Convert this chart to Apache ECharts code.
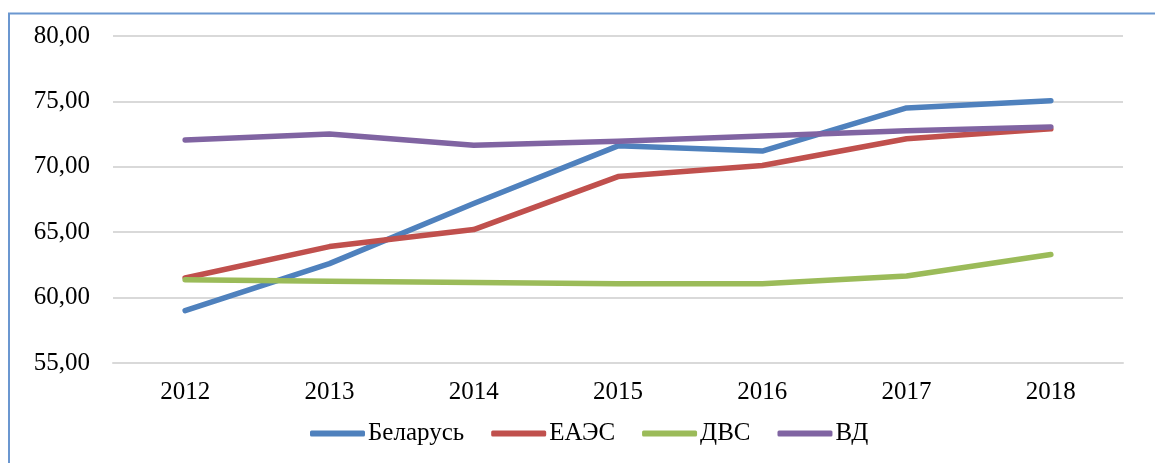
<!DOCTYPE html>
<html>
<head>
<meta charset="utf-8">
<script src="https://cdn.jsdelivr.net/npm/echarts@6/dist/echarts.min.js"></script>
<style>
html,body{margin:0;padding:0;background:#fff;}
#chart{width:1155px;height:463px;}
</style>
</head>
<body>
<div id="chart"></div>
<script>
const categories = ['2012','2013','2014','2015','2016','2017','2018'];
const belarus = [59.0, 62.6, 67.2, 71.6, 71.2, 74.5, 75.05];
const eaes = [61.5, 63.9, 65.2, 69.25, 70.1, 72.15, 72.9];
const dvs = [61.37, 61.25, 61.15, 61.05, 61.05, 61.65, 63.3];
const vd = [72.05, 72.5, 71.65, 71.95, 72.35, 72.75, 73.05];
const seriesNames = ['Беларусь','ЕАЭС','ДВС','ВД'];
const colors = ['#4f81bd','#c0504d','#9bbb59','#8064a2'];
const yTicks = {min: 55, max: 80, interval: 5};

const font = '"Liberation Serif", "DejaVu Serif", serif';
const chart = echarts.init(document.getElementById('chart'), null, {renderer: 'canvas'});
const dataSets = [belarus, eaes, dvs, vd];
chart.setOption({
  animation: false,
  backgroundColor: '#fff',
  color: colors,
  graphic: [{
    type: 'polyline',
    shape: {points: [[9, 470], [9, 13.5], [1160, 13.5]]},
    style: {stroke: '#6b97d0', lineWidth: 2, fill: null}
  }],
  grid: {left: 113, right: 32, top: 36, bottom: 100},
  legend: {
    bottom: 12,
    left: 305,
    itemWidth: 55,
    itemHeight: 6,
    itemGap: 27,
    icon: 'roundRect',
    textStyle: {fontFamily: font, fontSize: 25, color: '#000', padding: [0, 0, 0, -2]},
    data: seriesNames
  },
  xAxis: {
    type: 'category',
    data: categories,
    boundaryGap: true,
    axisLine: {show: true, lineStyle: {color: '#d9d9d9', width: 2}},
    axisTick: {show: false},
    axisLabel: {fontFamily: font, fontSize: 25, color: '#000', margin: 17}
  },
  yAxis: {
    type: 'value',
    min: yTicks.min, max: yTicks.max, interval: yTicks.interval,
    axisLine: {show: false},
    axisTick: {show: false},
    splitLine: {lineStyle: {color: '#d9d9d9', width: 2}},
    axisLabel: {
      fontFamily: font, fontSize: 25, color: '#000', margin: 23,
      formatter: v => v.toFixed(2).replace('.', ',')
    }
  },
  series: dataSets.map((d, i) => ({
    name: seriesNames[i],
    type: 'line',
    data: d,
    symbol: 'none',
    lineStyle: {width: 5.5, color: colors[i], cap: 'round', join: 'round'},
    itemStyle: {color: colors[i]}
  }))
});
</script>
</body>
</html>
